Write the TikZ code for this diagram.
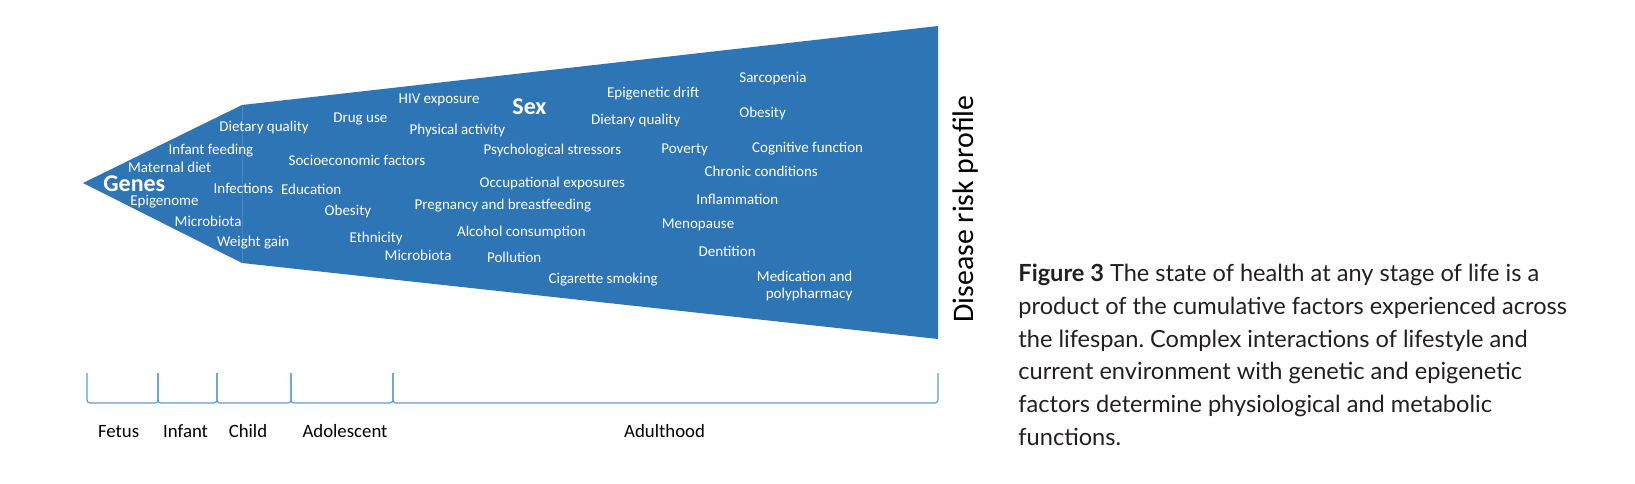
\documentclass[tikz,border=0pt]{standalone}
\usepackage{fontspec}
\setmainfont{Carlito}
\newfontfamily\capfont{Lato}
\definecolor{wedge}{RGB}{46,117,182}
\definecolor{brk}{RGB}{91,155,213}
\definecolor{captxt}{RGB}{35,31,32}
\frenchspacing
\begin{document}
\begin{tikzpicture}[x=0.5pt,y=-0.5pt,
  lab/.style={text=white, font=\fontsize{7.5}{9}\selectfont, anchor=base west, inner sep=0pt},
  labr/.style={text=white, font=\fontsize{7.5}{9}\selectfont, anchor=base east, inner sep=0pt},
  big/.style={text=white, font=\fontsize{12}{14}\selectfont\bfseries, anchor=base west, inner sep=0pt},
  stage/.style={font=\fontsize{9.4}{11}\selectfont, anchor=base, inner sep=0pt, text=black},
  captionline/.style={font=\capfont\fontsize{11.8}{13}\selectfont, anchor=base west, inner sep=0pt, text=captxt},
  bracket/.style={draw=brk, line width=0.6pt, rounded corners=1.5pt}]
\useasboundingbox (0,0) rectangle (1635,483);
% wedge
\fill[wedge] (83,183) -- (242,105) -- (938,26) -- (938,339) -- (242,263) -- cycle;
\draw[wedge!88!white, line width=0.3pt] (242,105.5) -- (242,262.5);
% labels inside
\node[big] (genes) at (103,191) {Genes};
\node[big] (sex) at (512,114) {Sex};
\node[lab] (l1) at (219,131.7) {Dietary quality};
\node[lab] (l2) at (333,122.3) {Drug use};
\node[lab] (l3) at (168.3,154) {Infant feeding};
\node[lab] (l4) at (288.3,165) {Socioeconomic factors};
\node[lab] (l5) at (127.7,172.5) {Maternal diet};
\node[lab] (l6) at (213.3,193.3) {Infections};
\node[lab] (l7) at (280.7,194) {Education};
\node[lab] (l8) at (130,205.7) {Epigenome};
\node[lab] (l9) at (324.3,215) {Obesity};
\node[lab] (l10) at (174.3,226) {Microbiota};
\node[lab] (l11) at (349.3,242.3) {Ethnicity};
\node[lab] (l12) at (216.7,246.7) {Weight gain};
\node[lab] (l13) at (384.3,260) {Microbiota};
\node[lab] (l14) at (398.3,103.3) {HIV exposure};
\node[lab] (l15) at (606.7,97.3) {Epigenetic drift};
\node[lab] (l16) at (409.3,134) {Physical activity};
\node[lab] (l17) at (590.7,124.3) {Dietary quality};
\node[lab] (l18) at (483.3,154) {Psychological stressors};
\node[lab] (l19) at (661,153.7) {Poverty};
\node[lab] (l20) at (479.3,187.3) {Occupational exposures};
\node[lab] (l21) at (414.3,209) {Pregnancy and breastfeeding};
\node[lab] (l22) at (456.7,236) {Alcohol consumption};
\node[lab] (l23) at (486.7,262.7) {Pollution};
\node[lab] (l24) at (548.3,283.3) {Cigarette smoking};
\node[lab] (l25) at (739,82.3) {Sarcopenia};
\node[lab] (l26) at (739,117.7) {Obesity};
\node[lab] (l27) at (751.7,152.7) {Cognitive function};
\node[lab] (l28) at (704.3,176.7) {Chronic conditions};
\node[lab] (l29) at (696,204) {Inflammation};
\node[lab] (l30) at (661.5,228.5) {Menopause};
\node[lab] (l31) at (698.3,256) {Dentition};
\node[labr] (l32) at (852.7,281) {Medication and};
\node[labr] (l33) at (852.7,298.3) {polypharmacy};
% side label
\node[rotate=90, anchor=base, inner sep=0pt, font=\fontsize{14.9}{16}\selectfont, text=black] (risk) at (973,209) {Disease risk profile};
% brackets
\draw[bracket] (87,373) -- (87,403) -- (158,403) -- (158,373);
\draw[bracket] (158,373) -- (158,403) -- (217,403) -- (217,373);
\draw[bracket] (217,373) -- (217,403) -- (291,403) -- (291,373);
\draw[bracket] (291,373) -- (291,403) -- (393,403) -- (393,373);
\draw[bracket] (393,373) -- (393,403) -- (938,403) -- (938,373);
% stage labels
\node[stage] (s1) at (118.6,437) {Fetus};
\node[stage] (s2) at (185.6,437) {Infant};
\node[stage] (s3) at (248,437) {Child};
\node[stage] (s4) at (345,437) {Adolescent};
\node[stage] (s5) at (664.6,437) {Adulthood};
% caption
\node[captionline] (c1) at (1018,281) {\textbf{Figure 3} The state of health at any stage of life is a};
\node[captionline] (c2) at (1018,314) {product of the cumulative factors experienced across};
\node[captionline] (c3) at (1018,347) {the lifespan. Complex interactions of lifestyle and};
\node[captionline] (c4) at (1018,379) {current environment with genetic and epigenetic};
\node[captionline] (c5) at (1018,412) {factors determine physiological and metabolic};
\node[captionline] (c6) at (1018,445) {functions.};
\end{tikzpicture}
\end{document}
